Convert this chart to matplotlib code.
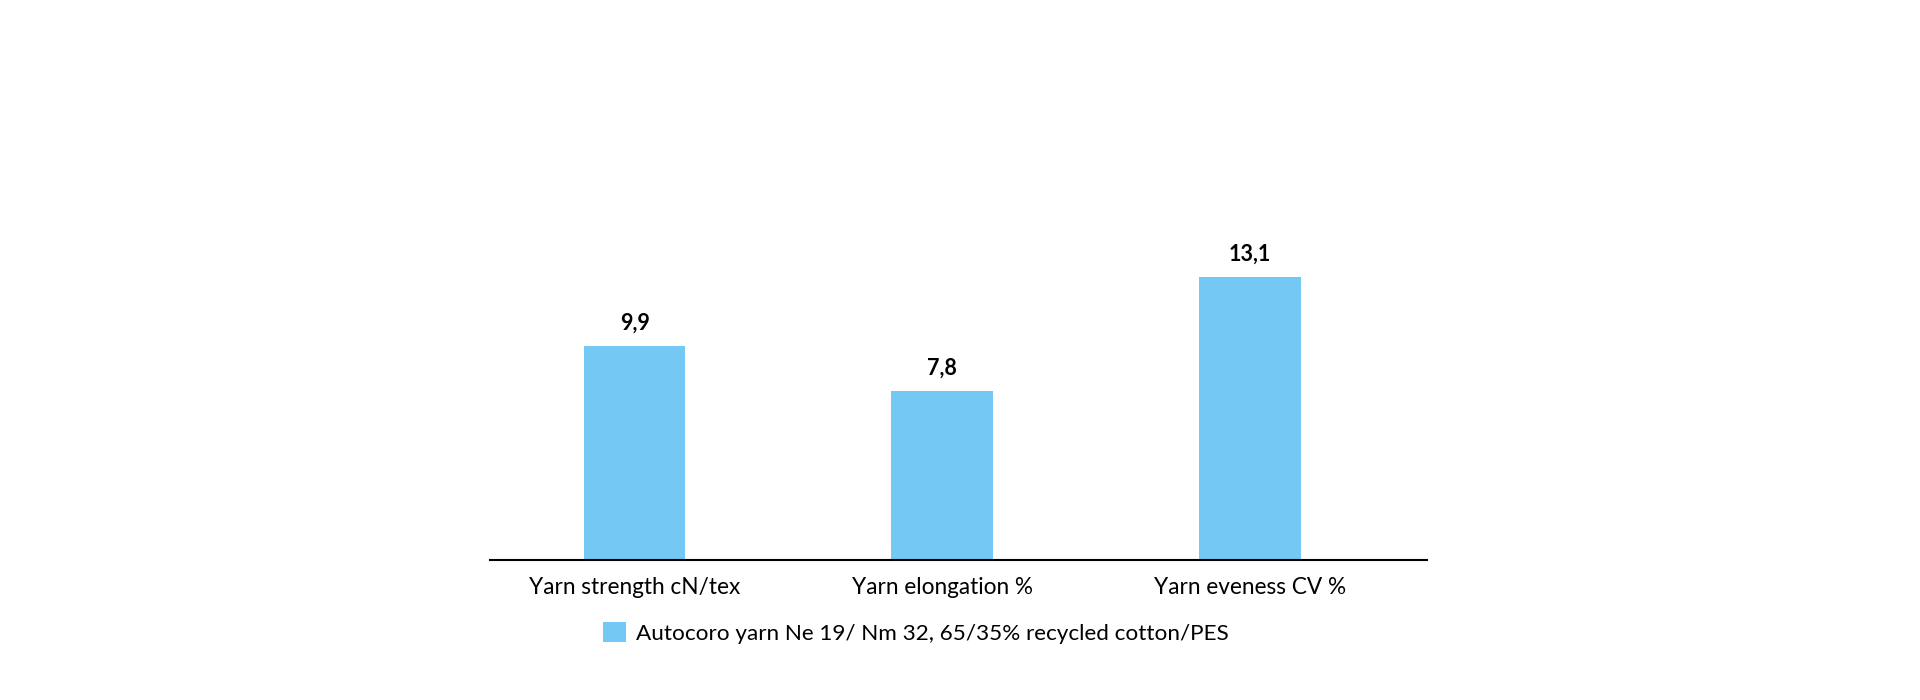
import matplotlib
matplotlib.use("Agg")
import matplotlib.pyplot as plt

# data
categories = ["Yarn strength cN/tex", "Yarn elongation %", "Yarn eveness CV %"]
values = [9.9, 7.8, 13.1]
series_name = "Autocoro yarn Ne 19/ Nm 32, 65/35% recycled cotton/PES"

bar_color = "#73C9F3"
plt.rcParams['font.family'] = ['Lato', 'DejaVu Sans']

fig = plt.figure(figsize=(19.2, 7), dpi=100)
ax = fig.add_axes([490/1920, 0.2, 937/1920, 346/700])

x = list(range(len(categories)))
bars = ax.bar(x, values, width=0.33, color=bar_color, label=series_name)

labels = [f"{v:.1f}".replace('.', ',') for v in values]
ax.bar_label(bars, labels=labels, padding=9, fontsize=15.5, fontweight='bold')

ax.set_xlim(-0.47, 2.576)
ax.set_ylim(0, 16)
ax.set_xticks(x)
ax.set_xticklabels(categories, fontsize=16.3)
ax.tick_params(axis='x', length=0, pad=12)
ax.set_yticks([])

for side in ['left', 'right', 'top']:
    ax.spines[side].set_visible(False)
ax.spines['bottom'].set_linewidth(1.5)
ax.spines['bottom'].set_color('black')

fig.legend(loc='center left', bbox_to_anchor=(592/1920, 1 - 633/700),
           frameon=False, fontsize=16.2, handlelength=1.0, handleheight=1.0,
           handletextpad=0.45, borderpad=0)

fig.savefig("out.png", dpi=100)
